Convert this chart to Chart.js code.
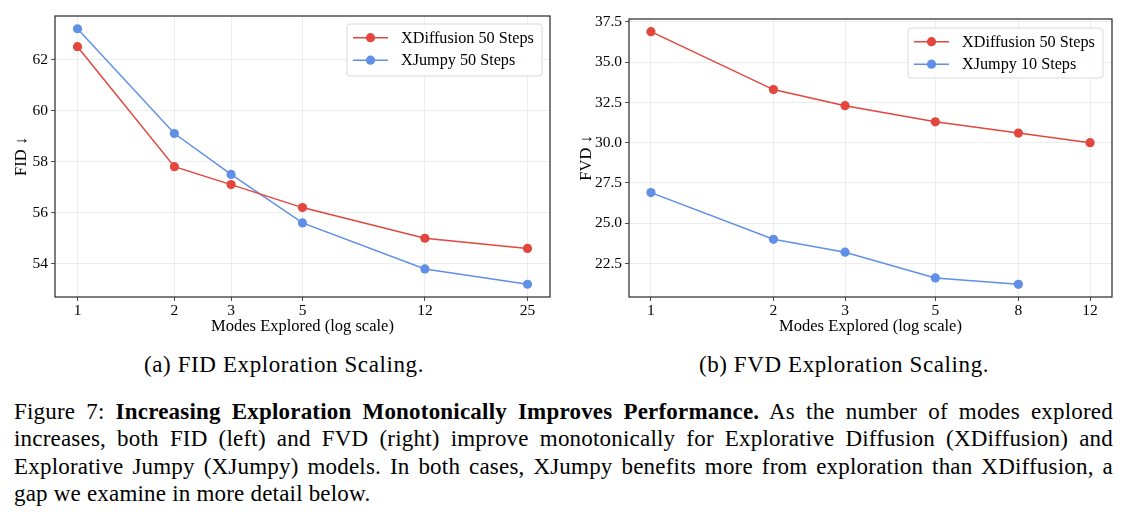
<!DOCTYPE html>
<html>
<head>
<meta charset="utf-8">
<script src="https://cdn.jsdelivr.net/npm/chart.js@4.4.1/dist/chart.umd.min.js"></script>
<style>
  body { margin: 0; background: #fff; width: 1129px; height: 517px; overflow: hidden; position: relative; font-family: "Liberation Serif", "Times New Roman", serif; color: #000; }
  canvas { position: absolute; top: 0; }
  #c1 { left: 0; }
  #c2 { left: 565px; }
  .sub { position: absolute; top: 351px; font-size: 23px; letter-spacing: 0.6px; line-height: 28px; white-space: nowrap; transform: translateX(-50%); }
  #cap { position: absolute; left: 14px; top: 398px; width: 1099px; font-size: 23px; letter-spacing: 0.2px; line-height: 27.3px; }
  #cap div { text-align: justify; text-align-last: justify; white-space: nowrap; }
  #cap div.last { text-align-last: left; }
</style>
</head>
<body>
<canvas id="c1" width="565" height="340" style="width:565px;height:340px"></canvas>
<canvas id="c2" width="564" height="340" style="width:564px;height:340px"></canvas>
<div class="sub" style="left:284px">(a) FID Exploration Scaling.</div>
<div class="sub" style="left:844px">(b) FVD Exploration Scaling.</div>
<div id="cap">
  <div>Figure 7: <b>Increasing Exploration Monotonically Improves Performance.</b> As the number of modes explored</div>
  <div>increases, both FID (left) and FVD (right) improve monotonically for Explorative Diffusion (XDiffusion) and</div>
  <div>Explorative Jumpy (XJumpy) models. In both cases, XJumpy benefits more from exploration than XDiffusion, a</div>
  <div class="last">gap we examine in more detail below.</div>
</div>
<script>
// values
const fidModes = [1, 2, 3, 5, 12, 25];
const fidXDiffusion = [62.5, 57.8, 57.1, 56.2, 55.0, 54.6];
const fidXJumpy = [63.2, 59.1, 57.5, 55.6, 53.8, 53.2];
const fidXTicks = [1, 2, 3, 5, 12, 25];
const fidYTicks = [54, 56, 58, 60, 62];

const fvdModesDiff = [1, 2, 3, 5, 8, 12];
const fvdXDiffusion = [36.9, 33.3, 32.3, 31.3, 30.6, 30.0];
const fvdModesJumpy = [1, 2, 3, 5, 8];
const fvdXJumpy = [26.9, 24.0, 23.2, 21.6, 21.2];
const fvdXTicks = [1, 2, 3, 5, 8, 12];
const fvdYTicks = [22.5, 25, 27.5, 30, 32.5, 35, 37.5];

const RED = '#e2463d';
const BLUE = '#5f8fe6';
const FONT = "'Liberation Serif', 'Times New Roman', serif";

function pts(xs, ys) {
  return xs.map((x, i) => ({ x: x, y: ys[i] }));
}

// matplotlib-like autoscale: 5% margin (log space for x)
function logLimits(xs) {
  let a = Math.log10(Math.min(...xs)), b = Math.log10(Math.max(...xs));
  let m = (b - a) * 0.05;
  return [Math.pow(10, a - m), Math.pow(10, b + m)];
}
function linLimits(ys) {
  let a = Math.min(...ys), b = Math.max(...ys);
  let m = (b - a) * 0.05;
  return [a - m, b + m];
}

// frame around the axes + legend box inside the plot
const framePlugin = {
  id: 'frame',
  afterDraw(chart) {
    const ctx = chart.ctx, a = chart.chartArea;
    ctx.save();
    ctx.strokeStyle = '#262626';
    ctx.lineWidth = 1.2;
    ctx.strokeRect(a.left, a.top, a.right - a.left, a.bottom - a.top);

    const lg = chart.options.plugins.boxLegend;
    if (lg) {
      ctx.fillStyle = 'rgba(255,255,255,0.85)';
      ctx.strokeStyle = '#d9d9d9';
      ctx.lineWidth = 1;
      ctx.beginPath();
      ctx.roundRect(lg.x, lg.y, lg.w, lg.h, 3);
      ctx.fill();
      ctx.stroke();
      ctx.font = '16.2px ' + FONT;
      ctx.textBaseline = 'middle';
      chart.data.datasets.forEach((ds, i) => {
        const y = lg.y + 13.7 + i * 22.5;
        ctx.strokeStyle = ds.borderColor;
        ctx.lineWidth = 1.5;
        ctx.beginPath();
        ctx.moveTo(lg.x + 6, y);
        ctx.lineTo(lg.x + 41, y);
        ctx.stroke();
        ctx.fillStyle = ds.backgroundColor;
        ctx.beginPath();
        ctx.arc(lg.x + 23.5, y, 4.6, 0, Math.PI * 2);
        ctx.fill();
        ctx.fillStyle = '#000';
        ctx.fillText(ds.label, lg.x + 54, y + 1);
      });
    }
    ctx.restore();
  }
};

function makeChart(id, cfg) {
  const xl = logLimits(cfg.allX);
  const yl = linLimits(cfg.allY);
  return new Chart(document.getElementById(id), {
    type: 'line',
    data: { datasets: cfg.datasets },
    plugins: [framePlugin],
    options: {
      responsive: false,
      animation: false,
      layout: { padding: { top: cfg.padTop, right: cfg.padRight, left: 0, bottom: 0 } },
      elements: {
        line: { borderWidth: 1.5, tension: 0 },
        point: { radius: 4.6, borderWidth: 0, hoverRadius: 4.6 }
      },
      plugins: {
        legend: { display: false },
        tooltip: { enabled: false },
        boxLegend: cfg.legend
      },
      scales: {
        x: {
          type: 'logarithmic',
          min: xl[0],
          max: xl[1],
          afterBuildTicks: s => { s.ticks = cfg.xTicks.map(v => ({ value: v })); },
          afterFit: s => { s.height = 43; },
          ticks: {
            color: '#000',
            font: { family: FONT, size: 15.5 },
            padding: 1,
            maxRotation: 0,
            autoSkip: false,
            callback: v => String(v)
          },
          grid: { color: '#e8e8e8', lineWidth: 0.8, tickColor: '#262626', tickLength: 4 },
          border: { display: false },
          title: { display: true, text: 'Modes Explored (log scale)', color: '#000', font: { family: FONT, size: 16.5 }, padding: { top: 0, bottom: 3 } }
        },
        y: {
          min: yl[0],
          max: yl[1],
          afterBuildTicks: s => { s.ticks = cfg.yTicks.map(v => ({ value: v })); },
          afterFit: s => { s.width = cfg.yWidth; },
          ticks: {
            color: '#000',
            font: { family: FONT, size: 15.5 },
            padding: 3,
            callback: cfg.yFmt
          },
          grid: { color: '#e8e8e8', lineWidth: 0.8, tickColor: '#262626', tickLength: 4 },
          border: { display: false },
          title: { display: true, text: cfg.yTitle, color: '#000', font: { family: FONT, size: 16.5 }, padding: { top: 12, bottom: 0 } }
        }
      }
    }
  });
}

makeChart('c1', {
  allX: fidModes,
  allY: fidXDiffusion.concat(fidXJumpy),
  xTicks: fidXTicks,
  yTicks: fidYTicks,
  yFmt: v => String(v),
  yTitle: 'FID \u2193',
  yWidth: 55,
  padTop: 16,
  padRight: 15,
  legend: { x: 347, y: 24, w: 195, h: 52 },
  datasets: [
    { label: 'XDiffusion 50 Steps', data: pts(fidModes, fidXDiffusion), borderColor: RED, backgroundColor: RED },
    { label: 'XJumpy 50 Steps', data: pts(fidModes, fidXJumpy), borderColor: BLUE, backgroundColor: BLUE }
  ]
});

makeChart('c2', {
  allX: fvdModesDiff.concat(fvdModesJumpy),
  allY: fvdXDiffusion.concat(fvdXJumpy),
  xTicks: fvdXTicks,
  yTicks: fvdYTicks,
  yFmt: v => v.toFixed(1),
  yTitle: 'FVD \u2193',
  yWidth: 64,
  padTop: 19,
  padRight: 17,
  legend: { x: 343, y: 28, w: 195, h: 50 },
  datasets: [
    { label: 'XDiffusion 50 Steps', data: pts(fvdModesDiff, fvdXDiffusion), borderColor: RED, backgroundColor: RED },
    { label: 'XJumpy 10 Steps', data: pts(fvdModesJumpy, fvdXJumpy), borderColor: BLUE, backgroundColor: BLUE }
  ]
});
</script>
</body>
</html>
